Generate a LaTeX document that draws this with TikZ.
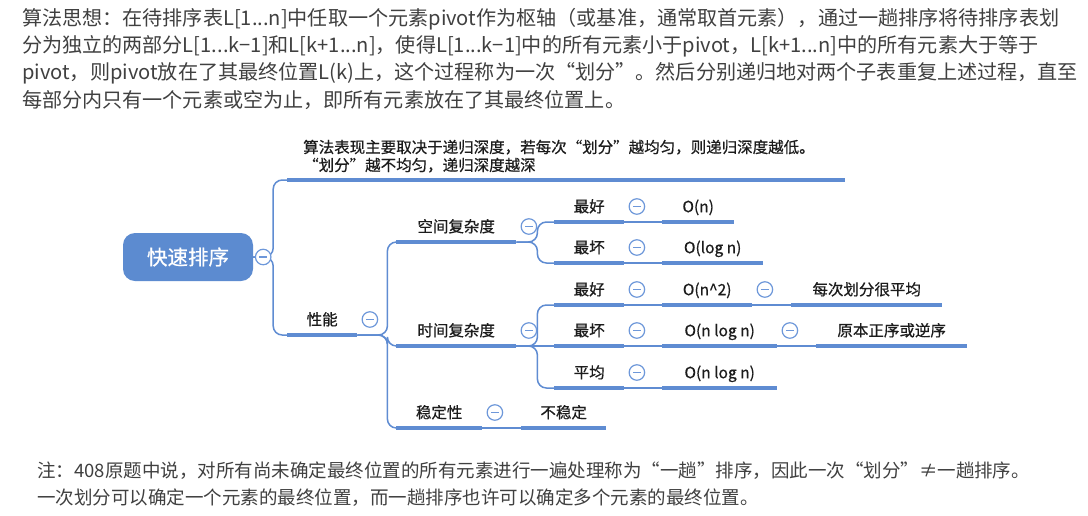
\documentclass[tikz,border=0pt]{standalone}
\usepackage{fontspec}
\setmainfont{Noto Sans CJK SC}
\newfontfamily\mapfam[FakeBold=0.6]{Noto Sans CJK SC}
\usetikzlibrary{calc}
\definecolor{lblue}{RGB}{95,140,210}
\definecolor{rootblue}{RGB}{92,139,208}
\definecolor{cblue}{RGB}{110,152,218}
\definecolor{ptext}{RGB}{64,64,64}
\definecolor{mtext}{RGB}{28,28,28}
\newcommand{\parafont}{\fontsize{20.1}{22}\selectfont}
\newcommand{\notefont}{\fontsize{18.5}{21}\selectfont}
\newcommand{\mapfont}{\mapfam\fontsize{15.5}{18}\selectfont}
\newcommand{\rootfont}{\mapfam\fontsize{20.5}{24}\selectfont}
\begin{document}
\begin{tikzpicture}[x=1pt,y=-1pt,
  topic/.style={anchor=south west, inner xsep=0pt, inner ysep=0pt, minimum width=#1,
    text height=12pt, text depth=9.6pt, font=\mapfont, text=mtext},
  uline/.style={draw=lblue, line width=4pt},
  conn/.style={draw=lblue, line width=1.5pt, rounded corners=9pt},
  collapse/.style={circle, draw=cblue, line width=1.2pt, fill=white, minimum size=15.5pt,
    inner sep=0pt, path picture={\draw[cblue,line width=1.2pt]
      ([xshift=-3.8pt]path picture bounding box.center) --
      ([xshift=3.8pt]path picture bounding box.center);}},
  para/.style={anchor=base west, inner sep=0pt, font=\parafont, text=ptext},
  bpara/.style={anchor=base west, inner sep=0pt, font=\notefont, text=ptext},
  notetext/.style={anchor=base west, inner sep=0pt, font=\mapfont, text=mtext},
  rootbox/.style={rectangle, rounded corners=12pt, fill=rootblue, text=white,
    minimum width=130pt, minimum height=48pt, inner sep=0pt, font=\rootfont}
]
\useasboundingbox (0,0) rectangle (1088,515);
\fill[white] (0,0) rectangle (1088,515);

% top paragraph
\node[para] (p1) at (22,25.4) {算法思想：在待排序表L[1...n]中任取一个元素pivot作为枢轴（或基准，通常取首元素），通过一趟排序将待排序表划};
\node[para] (p2) at (22,52.6) {分为独立的两部分L[1...k−1]和L[k+1...n]，使得L[1...k−1]中的所有元素小于pivot，L[k+1...n]中的所有元素大于等于};
\node[para] (p3) at (22,79.8) {pivot，则pivot放在了其最终位置L(k)上，这个过程称为一次“划分”。然后分别递归地对两个子表重复上述过程，直至};
\node[para] (p4) at (22,107) {每部分内只有一个元素或空为止，即所有元素放在了其最终位置上。};

% bottom paragraph
\node[bpara] (b1) at (37,477.6) {注：408原题中说，对所有尚未确定最终位置的所有元素进行一遍处理称为“一趟”排序，因此一次“划分”≠一趟排序。};
\node[bpara] (b2) at (37,504.8) {一次划分可以确定一个元素的最终位置，而一趟排序也许可以确定多个元素的最终位置。};

% mind map nodes
\node[rootbox] (root) at (188,257) {快速排序};
\node[topic=558pt] (note) at (287,180) {};
\node[notetext] (note1) at (303,152.9) {算法表现主要取决于递归深度，若每次“划分”越均匀，则递归深度越低。};
\node[notetext] (note2) at (303,170.9) {“划分”越不均匀，递归深度越深};
\node[topic=70pt] (xn) at (287,335) {性能};
\node[topic=120pt] (space) at (396,242) {空间复杂度};
\node[topic=120pt] (time) at (396,346) {时间复杂度};
\node[topic=86pt] (stab) at (396,428) {稳定性};
\node[topic=85pt] (unstab) at (521,428) {不稳定};
\node[topic=70pt] (sbest) at (554,222) {最好};
\node[topic=72pt] (sbestv) at (662,222) {O(n)};
\node[topic=70pt] (sworst) at (554,263) {最坏};
\node[topic=101pt] (sworstv) at (662,263) {O(log n)};
\node[topic=70pt] (tbest) at (554,305) {最好};
\node[topic=90pt] (tbestv) at (662,305) {O(n\textasciicircum 2)};
\node[topic=151pt] (tbestn) at (791,305) {每次划分很平均};
\node[topic=70pt] (tworst) at (554,346) {最坏};
\node[topic=115pt] (tworstv) at (662,346) {O(n log n)};
\node[topic=151pt] (tworstn) at (816,346) {原本正序或逆序};
\node[topic=70pt] (tavg) at (554,388) {平均};
\node[topic=115pt] (tavgv) at (662,388) {O(n log n)};

% connectors
\draw[conn] (root.east) -- ++(20,0) |- (note.south west);
\draw[conn] (root.east) -- ++(20,0) |- (xn.south west);
\draw[conn] (xn.south east) -- ++(30,0) |- (space.south west);
\draw[conn] (xn.south east) -- ++(30,0) |- (time.south west);
\draw[conn] (xn.south east) -- ++(30,0) |- (stab.south west);
\draw[conn] (space.south east) -- ++(21,0) |- (sbest.south west);
\draw[conn] (space.south east) -- ++(21,0) |- (sworst.south west);
\draw[conn] (time.south east) -- ++(21,0) |- (tbest.south west);
\draw[conn] (time.south east) -- (tworst.south west);
\draw[conn] (time.south east) -- ++(21,0) |- (tavg.south west);
\draw[conn] (stab.south east) -- (unstab.south west);
\draw[conn] (sbest.south east) -- (sbestv.south west);
\draw[conn] (sworst.south east) -- (sworstv.south west);
\draw[conn] (tbest.south east) -- (tbestv.south west);
\draw[conn] (tbestv.south east) -- (tbestn.south west);
\draw[conn] (tworst.south east) -- (tworstv.south west);
\draw[conn] (tworstv.south east) -- (tworstn.south west);
\draw[conn] (tavg.south east) -- (tavgv.south west);

% underlines
\foreach \n in {note,xn,space,time,stab,unstab,sbest,sbestv,sworst,sworstv,tbest,tbestv,tbestn,tworst,tworstv,tworstn,tavg,tavgv}
  \draw[uline] (\n.south west) -- (\n.south east);

% collapse markers
\node[collapse] (c0) at ($(root.east)+(10,0)$) {};
\foreach \n in {xn,space,time,stab,sbest,sworst,tbest,tworst,tavg,tbestv,tworstv}
  \node[collapse] (c\n) at ($(\n.south east)+(12.5,-15.5)$) {};
\end{tikzpicture}
\end{document}
